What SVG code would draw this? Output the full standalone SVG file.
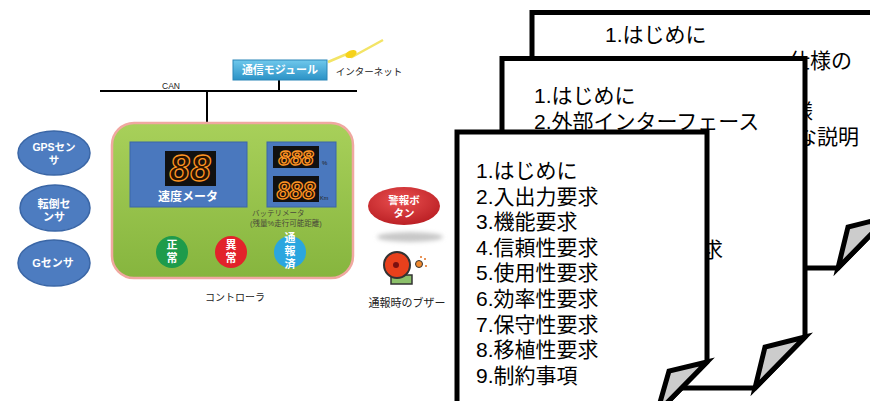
<svg xmlns="http://www.w3.org/2000/svg" width="870" height="401" viewBox="0 0 870 401">
  <defs>
    <linearGradient id="gCtrl" x1="0" y1="0" x2="0" y2="1">
      <stop offset="0" stop-color="#a8d05a"/>
      <stop offset="1" stop-color="#86b53e"/>
    </linearGradient>
    <linearGradient id="gModule" x1="0" y1="0" x2="0" y2="1">
      <stop offset="0" stop-color="#6fc8ec"/>
      <stop offset="1" stop-color="#2b92c6"/>
    </linearGradient>
    <radialGradient id="gAlarm" cx="0.45" cy="0.35" r="0.7">
      <stop offset="0" stop-color="#ea5050"/>
      <stop offset="1" stop-color="#b81d22"/>
    </radialGradient>
    <filter id="soft" x="-20%" y="-100%" width="140%" height="300%">
      <feGaussianBlur stdDeviation="2"/>
    </filter>
  </defs>
  <style>
    .jp{font-family:"Liberation Sans","Noto Sans CJK JP",sans-serif}
    .wl{fill:#fff;font-weight:bold;text-anchor:middle}
    .sensor{fill:#4d7cc0;stroke:#3a66a6;stroke-width:1.5}
    .panel{fill:#4a78be;stroke:#3b66a8;stroke-width:1}
    .lcd{fill:#111}
    .seg{font-family:"Liberation Sans",sans-serif;font-weight:bold;font-style:italic;fill:#2a1400;stroke:#ff9524;stroke-width:1.3;text-anchor:middle}
    .bus{stroke:#000;stroke-width:2;fill:none}
    .doc{fill:#fff;stroke:#000;stroke-width:5;stroke-linejoin:miter}
    .flap{fill:#ccc;stroke:#000;stroke-width:5;stroke-linejoin:miter}
    .toc{font-family:"Liberation Sans","Noto Sans CJK JP",sans-serif;font-size:21px;fill:#000}
  </style>

  <!-- CAN bus and its drops -->
  <g id="connectors">
    <line class="bus" x1="100" y1="91" x2="357" y2="91"/>
    <line class="bus" x1="207" y1="91" x2="207" y2="123"/>
    <line class="bus" x1="279" y1="80" x2="279" y2="91"/>
    <polyline points="328,62 349,53 352,57 383,40" fill="none" stroke="#f3e466" stroke-width="2.5"/>
    <ellipse cx="351" cy="54" rx="6" ry="3.5" fill="#f6d21a" transform="rotate(-25 351 54)"/>
    <text x="171" y="89" font-family="Liberation Sans,sans-serif" font-size="8.5" text-anchor="middle" fill="#222">CAN</text>
    <text class="jp" x="369" y="75" font-size="9.5" text-anchor="middle" fill="#222">インターネット</text>
  </g>

  <!-- communication module -->
  <g id="comm-module">
    <rect x="233" y="60" width="94" height="20" fill="url(#gModule)" stroke="#2a86b8" stroke-width="1"/>
    <text class="jp wl" x="280" y="74" font-size="11">通信モジュール</text>
  </g>

  <!-- sensors -->
  <g id="gps-sensor">
    <ellipse class="sensor" cx="54" cy="153" rx="36" ry="22"/>
    <text class="jp wl" font-size="10.5"><tspan x="54" y="151">GPSセン</tspan><tspan x="54" y="164">サ</tspan></text>
  </g>
  <g id="tilt-sensor">
    <ellipse class="sensor" cx="55" cy="208" rx="35" ry="23"/>
    <text class="jp wl" font-size="11"><tspan x="54" y="208">転倒セ</tspan><tspan x="54" y="221">ンサ</tspan></text>
  </g>
  <g id="g-sensor">
    <ellipse class="sensor" cx="54" cy="263" rx="36" ry="23"/>
    <text class="jp wl" x="53" y="267" font-size="11">Gセンサ</text>
  </g>

  <!-- controller -->
  <g id="controller">
    <rect x="112" y="123" width="241" height="155" rx="22" fill="url(#gCtrl)" stroke="#f0a8a0" stroke-width="2.5"/>
    <rect class="panel" x="130" y="142" width="117" height="65"/>
    <rect class="lcd" x="165" y="151" width="51" height="35"/>
    <text class="seg" x="190.5" y="181" font-size="36" letter-spacing="1">88</text>
    <text class="jp wl" x="188" y="201" font-size="12">速度メータ</text>
    <rect class="panel" x="267" y="142" width="69" height="65"/>
    <rect class="lcd" x="273" y="146" width="46" height="22"/>
    <text class="seg" x="296" y="165" font-size="21">888</text>
    <text x="322" y="165" font-family="Liberation Sans,sans-serif" font-size="6" fill="#222">%</text>
    <rect class="lcd" x="273" y="176" width="46" height="26"/>
    <text class="seg" x="296" y="199" font-size="23">888</text>
    <text x="320" y="200" font-family="Liberation Sans,sans-serif" font-size="5.5" fill="#222">Km</text>
    <text class="jp" font-size="7.5" fill="#4a4a3a"><tspan x="252" y="216">バッテリメータ</tspan><tspan x="250" y="226">(残量%走行可能距離)</tspan></text>
    <circle cx="172" cy="252" r="16" fill="#1e9b4b"/>
    <text class="jp wl" font-size="11"><tspan x="172" y="249">正</tspan><tspan x="172" y="262">常</tspan></text>
    <circle cx="231" cy="252" r="16" fill="#e2232a"/>
    <text class="jp wl" font-size="11"><tspan x="231" y="249">異</tspan><tspan x="231" y="262">常</tspan></text>
    <circle cx="290" cy="252" r="16" fill="#2ba6df"/>
    <text class="jp wl" font-size="11"><tspan x="290" y="242">通</tspan><tspan x="290" y="255">報</tspan><tspan x="290" y="268">済</tspan></text>
    <text class="jp" x="235" y="301" font-size="10" text-anchor="middle" fill="#222">コントローラ</text>
  </g>

  <!-- alarm button -->
  <g id="alarm-button">
    <ellipse cx="410" cy="237" rx="33" ry="5" fill="#c8c8c8" filter="url(#soft)"/>
    <ellipse cx="404" cy="206" rx="36" ry="19" fill="url(#gAlarm)"/>
    <text class="jp wl" font-size="10.5"><tspan x="404" y="204">警報ボ</tspan><tspan x="404" y="217">タン</tspan></text>
  </g>

  <!-- buzzer -->
  <g id="buzzer">
    <rect x="391" y="275" width="21" height="9" fill="#8cc06a" stroke="#333" stroke-width="1.5"/>
    <circle cx="397" cy="265" r="13" fill="#e8401c" stroke="#333" stroke-width="2"/>
    <circle cx="396" cy="265" r="3" fill="#7a1010"/>
    <circle cx="419" cy="264" r="3.5" fill="#f08a30" stroke="#333" stroke-width="1"/>
    <circle cx="425" cy="259" r="1" fill="#e07020"/>
    <circle cx="426" cy="266" r="1" fill="#e07020"/>
    <circle cx="421" cy="257" r="1" fill="#e07020"/>
    <text class="jp" x="407" y="307" font-size="11" text-anchor="middle" fill="#222">通報時のブザー</text>
  </g>

  <!-- document stack: back sheet -->
  <g id="doc-back">
    <path class="doc" d="M532,12.5 H888 V217 L838,268 H532 Z"/>
    <path class="flap" d="M888,217 L848,227 L838,268 Z"/>
    <text class="toc" x="605" y="42">1.はじめに</text>
    <text class="toc" x="789" y="67.6">仕様の</text>
    <text class="toc" x="792" y="118.8">様</text>
    <text class="toc" x="796" y="144.4">な説明</text>
  </g>

  <!-- document stack: middle sheet -->
  <g id="doc-middle">
    <path class="doc" d="M502,58.5 H805 V337 L755,388 H502 Z"/>
    <path class="flap" d="M805,337 L765,347 L755,388 Z"/>
    <text class="toc" x="534" y="103">1.はじめに</text>
    <text class="toc" x="534" y="128.6">2.外部インターフェース</text>
    <text class="toc" x="702" y="256.6">求</text>
  </g>

  <!-- document stack: front sheet -->
  <g id="doc-front">
    <path class="doc" d="M457,132 H707 V362 L657,413 H457 Z"/>
    <path class="flap" d="M707,362 L669,371 L657,413 Z"/>
    <text class="toc">
      <tspan x="476" y="178">1.はじめに</tspan>
      <tspan x="476" y="203.6">2.入出力要求</tspan>
      <tspan x="476" y="229.2">3.機能要求</tspan>
      <tspan x="476" y="254.8">4.信頼性要求</tspan>
      <tspan x="476" y="280.4">5.使用性要求</tspan>
      <tspan x="476" y="306">6.効率性要求</tspan>
      <tspan x="476" y="331.6">7.保守性要求</tspan>
      <tspan x="476" y="357.2">8.移植性要求</tspan>
      <tspan x="476" y="382.8">9.制約事項</tspan>
    </text>
  </g>
</svg>
